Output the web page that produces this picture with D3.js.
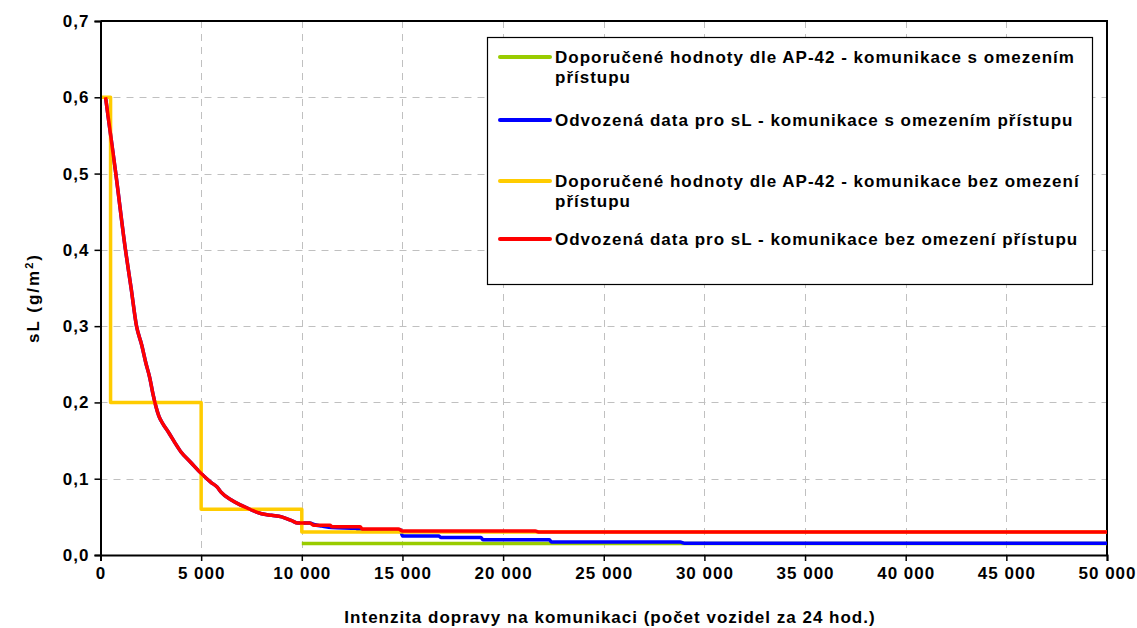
<!DOCTYPE html>
<html>
<head>
<meta charset="utf-8">
<script src="https://cdn.jsdelivr.net/npm/d3@7"></script>
<style>
  html, body { margin: 0; padding: 0; background: #fff; }
  svg { display: block; font-family: "Liberation Sans", Arial, sans-serif; font-weight: bold; }
</style>
</head>
<body>
<svg id="chart" width="1137" height="628"></svg>
<script>
// Traffic intensity (vehicles / 24 h) and silt loading sL (g/m2)
const xTicks = [0, 5000, 10000, 15000, 20000, 25000, 30000, 35000, 40000, 45000, 50000];
const yTicks = [0, 0.1, 0.2, 0.3, 0.4, 0.5, 0.6, 0.7];

// AP-42 recommended values, limited-access roads
const ap42Limited = [[10000, 0.015], [50000, 0.015]];

// AP-42 recommended values, roads without access limits (step function)
const ap42Open = [
  [0, 0.6], [500, 0.6], [500, 0.2], [5000, 0.2], [5000, 0.06],
  [10000, 0.06], [10000, 0.03], [50000, 0.03]
];

// Derived curve shared by both road types at low intensity
const derivedCommon = [
  [250, 0.600], [760, 0.500], [1240, 0.400], [1520, 0.350], [1790, 0.300],
  [2050, 0.275], [2250, 0.252], [2450, 0.232], [2600, 0.212], [2750, 0.195],
  [2900, 0.182], [3100, 0.172], [3400, 0.160], [3700, 0.147], [4000, 0.135],
  [4500, 0.121], [5000, 0.107], [5500, 0.095], [5800, 0.089], [6000, 0.082],
  [6500, 0.072], [7000, 0.065], [7500, 0.059], [8000, 0.054], [8500, 0.052],
  [9000, 0.050], [9500, 0.045], [9800, 0.042], [10400, 0.042]
];

// Derived data, limited-access roads (tail)
const derivedLimitedTail = [
  [10600, 0.040], [11000, 0.038], [11500, 0.036], [12700, 0.035], [12800, 0.033],
  [14900, 0.033], [15000, 0.025], [16800, 0.025], [16900, 0.023], [18900, 0.023],
  [19000, 0.020], [22300, 0.020], [22400, 0.017], [28800, 0.017], [29000, 0.0155],
  [50000, 0.0155]
];

// Derived data, roads without access limits (tail)
const derivedOpenTail = [
  [10600, 0.039], [11400, 0.039], [11500, 0.037], [12900, 0.037], [13000, 0.034],
  [14800, 0.034], [15000, 0.0315], [21600, 0.0315], [21800, 0.030], [50000, 0.030]
];

const seriesNames = [
  "Doporučené hodnoty dle AP-42 - komunikace s omezením|přístupu",
  "Odvozená data pro sL - komunikace s omezením přístupu",
  "Doporučené hodnoty dle AP-42 - komunikace bez omezení|přístupu",
  "Odvozená data pro sL - komunikace bez omezení přístupu"
];
const seriesColors = ["#99cc00", "#0000ff", "#ffcc00", "#ff0000"];

const series = [
  { name: seriesNames[0], color: seriesColors[0], data: ap42Limited, smooth: false },
  { name: seriesNames[1], color: seriesColors[1], data: derivedCommon.concat(derivedLimitedTail), smooth: true },
  { name: seriesNames[2], color: seriesColors[2], data: ap42Open, smooth: false },
  { name: seriesNames[3], color: seriesColors[3], data: derivedCommon.concat(derivedOpenTail), smooth: true }
];

const svg = d3.select("#chart");
const plot = { left: 100.5, right: 1107, top: 21, bottom: 555 };

const x = d3.scaleLinear().domain([0, 50000]).range([plot.left, plot.right]);
const y = d3.scaleLinear().domain([0, 0.7]).range([plot.bottom, plot.top]);

const fmtX = v => d3.format(",")(v).replace(/,/g, "\u00a0");
const fmtY = v => v.toFixed(1).replace(".", ",");

// Dashed grid
const grid = svg.append("g").attr("stroke", "#c0c0c0").attr("stroke-width", 1)
  .attr("stroke-dasharray", "7,6");
grid.selectAll("line.v").data(xTicks.filter(t => t > 0 && t < 50000)).enter()
  .append("line").attr("class", "v")
  .attr("x1", d => Math.round(x(d)) + 0.5).attr("x2", d => Math.round(x(d)) + 0.5)
  .attr("y1", plot.top).attr("y2", plot.bottom);
grid.selectAll("line.h").data(yTicks.filter(t => t > 0 && t < 0.7)).enter()
  .append("line").attr("class", "h")
  .attr("y1", d => Math.round(y(d)) + 0.5).attr("y2", d => Math.round(y(d)) + 0.5)
  .attr("x1", plot.left).attr("x2", plot.right);

// Plot frame (top and right edges)
svg.append("path")
  .attr("d", `M${plot.left},${plot.top}H${plot.right}V${plot.bottom}`)
  .attr("fill", "none").attr("stroke", "#000").attr("stroke-width", 2);

// Data lines
const straight = d3.line().x(d => x(d[0])).y(d => y(d[1]));
const smooth = d3.line().x(d => x(d[0])).y(d => y(d[1])).curve(d3.curveMonotoneX);
svg.append("g").selectAll("path").data(series).enter().append("path")
  .attr("d", d => (d.smooth ? smooth : straight)(d.data))
  .attr("fill", "none")
  .attr("stroke", d => d.color)
  .attr("stroke-width", 3.5)
  .attr("stroke-linejoin", "round");

// Axes
const xAxis = d3.axisBottom(x).tickValues(xTicks).tickFormat(fmtX).tickSize(6).tickPadding(6);
const yAxis = d3.axisLeft(y).tickValues(yTicks).tickFormat(fmtY).tickSize(6).tickPadding(5);

const gx = svg.append("g").attr("transform", `translate(0,${plot.bottom})`).call(xAxis);
const gy = svg.append("g").attr("transform", `translate(${plot.left},0)`).call(yAxis);
[gx, gy].forEach(g => {
  g.select(".domain").attr("stroke", "#000").attr("stroke-width", 2);
  g.selectAll(".tick line").attr("stroke", "#000").attr("stroke-width", 1.5);
  g.selectAll(".tick text").attr("fill", "#000")
    .style("font-family", '"Liberation Sans", Arial, sans-serif')
    .style("font-weight", "bold").style("font-size", "17px")
    .style("letter-spacing", "1px");
});

// Axis titles
svg.append("text")
  .attr("x", 610).attr("y", 623)
  .attr("text-anchor", "middle")
  .style("font-size", "17px").style("letter-spacing", "1px")
  .text("Intenzita dopravy na komunikaci (počet vozidel za 24 hod.)");

const yt = svg.append("text")
  .attr("transform", "translate(39,298) rotate(-90)")
  .attr("text-anchor", "middle")
  .style("font-size", "17px").style("letter-spacing", "2px");
yt.append("tspan").text("sL (g/m");
yt.append("tspan").attr("dy", -6).style("font-size", "11px").text("2");
yt.append("tspan").attr("dy", 6).text(")");

// Legend
const legend = svg.append("g");
legend.append("rect")
  .attr("x", 487.5).attr("y", 37.5).attr("width", 605).attr("height", 247)
  .attr("fill", "#fff").attr("stroke", "#000").attr("stroke-width", 1.2);

const rowY = [57, 120, 181, 239];
const items = legend.selectAll("g.item").data(series).enter().append("g").attr("class", "item");
items.append("line")
  .attr("x1", 500).attr("x2", 550)
  .attr("y1", (d, i) => rowY[i]).attr("y2", (d, i) => rowY[i])
  .attr("stroke", d => d.color).attr("stroke-width", 4).attr("stroke-linecap", "round");
items.each(function (d, i) {
  const parts = d.name.split("|");
  const t = d3.select(this).append("text")
    .attr("x", 555).attr("y", rowY[i] + 6)
    .style("font-size", "17px").style("letter-spacing", "1px");
  parts.forEach((p, k) => {
    t.append("tspan").attr("x", 555).attr("dy", k === 0 ? 0 : 20).text(p);
  });
});
</script>
</body>
</html>
